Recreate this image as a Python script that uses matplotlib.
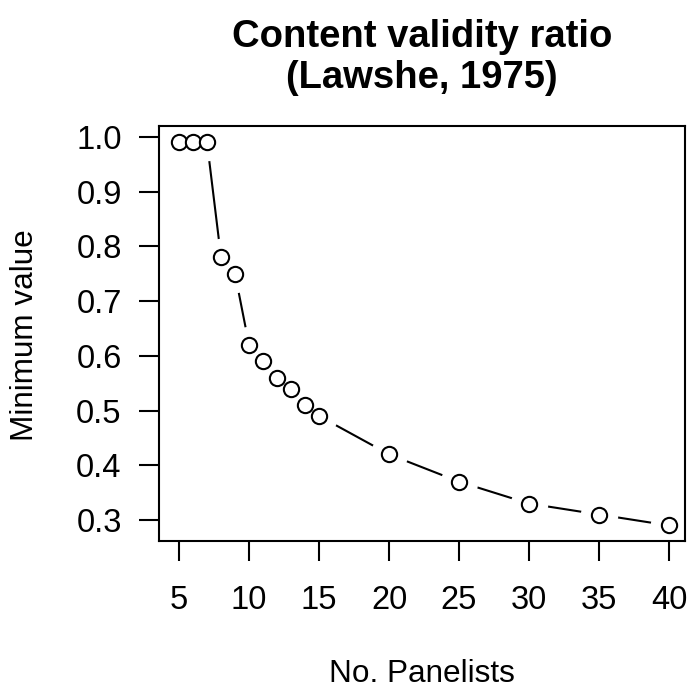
import matplotlib
matplotlib.use('Agg')
import matplotlib.pyplot as plt

# Lawshe (1975) minimum CVR values
panelists = [5, 6, 7, 8, 9, 10, 11, 12, 13, 14, 15, 20, 25, 30, 35, 40]
min_value = [0.99, 0.99, 0.99, 0.78, 0.75, 0.62, 0.59, 0.56, 0.54, 0.51,
             0.49, 0.42, 0.37, 0.33, 0.31, 0.29]
x_ticks = [5, 10, 15, 20, 25, 30, 35, 40]
y_ticks = [0.3, 0.4, 0.5, 0.6, 0.7, 0.8, 0.9, 1.0]

plt.rcParams['font.family'] = ['Liberation Sans', 'DejaVu Sans']

W, H = 689, 690
fig = plt.figure(figsize=(W / 100, H / 100), dpi=100)
fig.patch.set_facecolor('white')
# plot box in pixels: left 159, right 685, top 126, bottom 541
ax = fig.add_axes([159 / W, (H - 541) / H, (685 - 159) / W, (541 - 126) / H])

# type="b": line with gaps around the points
ax.plot(panelists, min_value, color='black', lw=1.5, zorder=1)
ax.plot(panelists, min_value, ls='none', marker='o', ms=27,
        mfc='white', mec='none', zorder=2)
ax.plot(panelists, min_value, ls='none', marker='o', ms=11,
        mfc='white', mec='black', mew=1.5, zorder=3)

ax.set_xlim(3.57, 41.14)
ax.set_ylim(0.2616, 1.020)
ax.set_xticks(x_ticks)
ax.set_yticks(y_ticks)
ax.set_xticklabels([str(v) for v in x_ticks])
ax.set_yticklabels([f'{v:.1f}' for v in y_ticks])
ax.tick_params(axis='both', direction='out', length=14.4, width=1.5,
               labelsize=23.5)
ax.tick_params(axis='x', pad=17)
ax.tick_params(axis='y', pad=12.5)
for s in ax.spines.values():
    s.set_linewidth(1.5)

fig.text(422 / W, 1 - 37 / H, 'Content validity ratio', ha='center',
         va='center', fontsize=27.5, fontweight='bold')
fig.text(422 / W, 1 - 78 / H, '(Lawshe, 1975)', ha='center',
         va='center', fontsize=27.5, fontweight='bold')
fig.text(422 / W, 1 - 674 / H, 'No. Panelists', ha='center', va='center',
         fontsize=22.7)
fig.text(25 / W, 1 - 335 / H, 'Minimum value', ha='center', va='center',
         fontsize=22.7, rotation=90)

fig.savefig('out.png', dpi=100, facecolor='white')
